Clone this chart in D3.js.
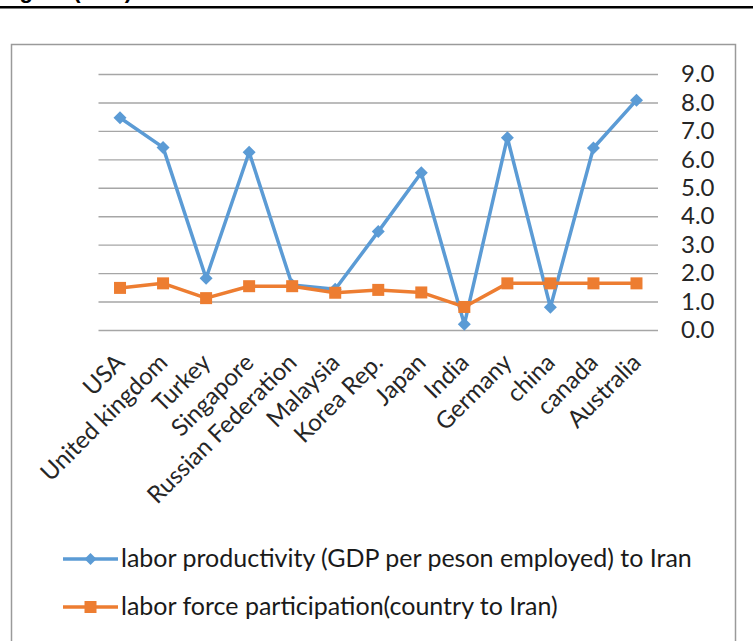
<!DOCTYPE html>
<html>
<head>
<meta charset="utf-8">
<script src="https://cdn.jsdelivr.net/npm/d3@7"></script>
<style>
  body { margin: 0; background: #fff; }
  svg { display: block; font-family: Lato, "Open Sans", sans-serif; }
</style>
</head>
<body>
<svg id="canvas" width="753" height="641"></svg>
<script>
let countries = ['USA', 'United kingdom', 'Turkey', 'Singapore', 'Russian Federation', 'Malaysia',
    'Korea Rep.', 'Japan', 'India', 'Germany', 'china', 'canada', 'Australia']
let productivity = [7.46, 6.42, 1.82, 6.25, 1.58, 1.43, 3.46, 5.53, 0.2, 6.76, 0.8, 6.4, 8.08]
let participation = [1.48, 1.64, 1.12, 1.54, 1.54, 1.31, 1.41, 1.32, 0.81, 1.64, 1.64, 1.64, 1.64]
let yTicks = [0, 1, 2, 3, 4, 5, 6, 7, 8, 9]
let seriesNames = ['labor productivity (GDP per peson employed) to Iran',
    'labor force participation(country to Iran)']

let blue = '#5b9bd5'
let orange = '#ed7d31'

let canvas = d3.select('#canvas')

// heading of the page above, mostly cut off
canvas.append('text')
    .attr('x', 0)
    .attr('y', -2)
    .style('font-family', 'Arial, "Liberation Sans", sans-serif')
    .style('font-weight', 'bold')
    .style('font-size', '22px')
    .text('Figure (1-12)')

canvas.append('rect')
    .attr('x', 0).attr('y', 6)
    .attr('width', 753).attr('height', 2.5)
    .attr('fill', '#000')

// chart frame
canvas.append('rect')
    .attr('x', 11.5).attr('y', 44.5)
    .attr('width', 724).attr('height', 640)
    .attr('fill', 'none')
    .attr('stroke', '#9a9a9a')
    .attr('stroke-width', 1.5)

let left = 98.5
let right = 658

let x = d3.scaleBand()
    .domain(countries)
    .range([left, right])

let y = d3.scaleLinear()
    .domain([0, 9])
    .range([330, 74])

let cx = (d) => x(d) + x.bandwidth() / 2

let yAxis = d3.axisRight(y)
    .tickValues(yTicks)
    .tickFormat(d3.format('.1f'))
    .tickSizeInner(-(right - left))
    .tickSizeOuter(0)
    .tickPadding(23)

let yg = canvas.append('g')
    .attr('transform', 'translate(' + right + ',0)')
    .call(yAxis)
yg.select('.domain').remove()
yg.selectAll('line').attr('stroke', '#a6a6a6').attr('stroke-width', 1.4)
yg.selectAll('text')
    .attr('fill', '#262626')
    .style('font-family', 'Lato, sans-serif')
    .style('font-size', '24px')

let xAxis = d3.axisBottom(x).tickSize(0)

let xg = canvas.append('g')
    .attr('transform', 'translate(0,330)')
    .call(xAxis)
xg.select('.domain').remove()
xg.selectAll('text')
    .attr('x', 0)
    .attr('y', 0)
    .attr('dy', 0)
    .attr('transform', 'translate(6,34) rotate(-45)')
    .style('text-anchor', 'end')
    .attr('fill', '#262626')
    .style('font-family', 'Lato, sans-serif')
    .style('font-size', '24px')

let line = d3.line()
    .x((d, i) => cx(countries[i]))
    .y((d) => y(d))

let diamond = (px, py, r) => 'M' + px + ',' + (py - r) + 'L' + (px + r) + ',' + py +
    'L' + px + ',' + (py + r) + 'L' + (px - r) + ',' + py + 'Z'

// blue series
canvas.append('path')
    .datum(productivity)
    .attr('d', line)
    .attr('fill', 'none')
    .attr('stroke', blue)
    .attr('stroke-width', 3.5)
    .attr('stroke-linejoin', 'round')

canvas.selectAll('.dia')
    .data(productivity)
    .enter()
    .append('path')
    .attr('class', 'dia')
    .attr('d', (d, i) => diamond(cx(countries[i]), y(d), 6.5))
    .attr('fill', blue)

// orange series
canvas.append('path')
    .datum(participation)
    .attr('d', line)
    .attr('fill', 'none')
    .attr('stroke', orange)
    .attr('stroke-width', 3.5)
    .attr('stroke-linejoin', 'round')

canvas.selectAll('.sq')
    .data(participation)
    .enter()
    .append('rect')
    .attr('class', 'sq')
    .attr('x', (d, i) => cx(countries[i]) - 6)
    .attr('y', (d) => y(d) - 6)
    .attr('width', 12)
    .attr('height', 12)
    .attr('fill', orange)

// legend
let legendY = [559, 607]
let legend = canvas.selectAll('.legend')
    .data(seriesNames)
    .enter()
    .append('g')
    .attr('class', 'legend')
    .attr('transform', (d, i) => 'translate(0,' + legendY[i] + ')')

legend.append('line')
    .attr('x1', 63).attr('x2', 118)
    .attr('y1', 0).attr('y2', 0)
    .attr('stroke', (d, i) => i === 0 ? blue : orange)
    .attr('stroke-width', 3.5)

legend.append('path')
    .attr('d', (d, i) => i === 0 ? diamond(90.5, 0, 6) : 'M84.5,-6h12v12h-12Z')
    .attr('fill', (d, i) => i === 0 ? blue : orange)

legend.append('text')
    .attr('x', 121)
    .attr('y', 8)
    .attr('fill', '#1a1a1a')
    .style('font-family', 'Lato, sans-serif')
    .style('font-size', '25px')
    .text((d) => d)
</script>
</body>
</html>
